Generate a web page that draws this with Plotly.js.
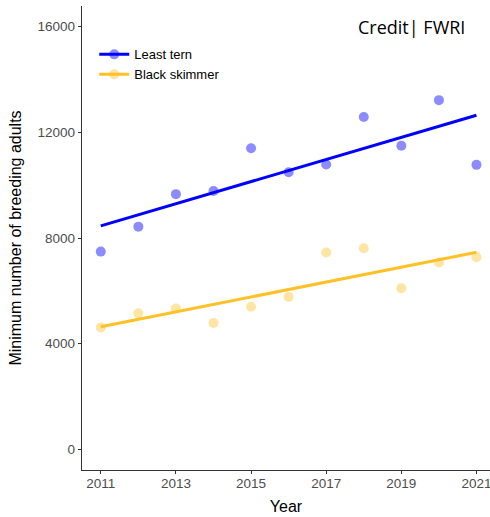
<!DOCTYPE html>
<html>
<head>
<meta charset="utf-8">
<script src="https://cdn.plot.ly/plotly-3.0.1.min.js"></script>
<style>html,body{margin:0;padding:0;background:#fff;}#chart{width:490px;height:517px;}</style>
</head>
<body>
<div id="chart"></div>
<script>
const years = [2011, 2012, 2013, 2014, 2015, 2016, 2017, 2018, 2019, 2020, 2021];
const leastTern = [7485, 8430, 9660, 9780, 11400, 10490, 10780, 12580, 11490, 13220, 10770];
const blackSkimmer = [4610, 5150, 5330, 4780, 5400, 5770, 7450, 7610, 6100, 7070, 7270];
const seriesNames = ["Least tern", "Black skimmer"];
const yTicks = [0, 4000, 8000, 12000, 16000];
const xTicks = [2011, 2013, 2015, 2017, 2019, 2021];

function fit(xs, ys) {
  const n = xs.length;
  const mx = xs.reduce((a, b) => a + b, 0) / n;
  const my = ys.reduce((a, b) => a + b, 0) / n;
  let sxy = 0, sxx = 0;
  for (let i = 0; i < n; i++) { sxy += (xs[i] - mx) * (ys[i] - my); sxx += (xs[i] - mx) ** 2; }
  const b = sxy / sxx, a = my - b * mx;
  const x0 = xs[0], x1 = xs[n - 1];
  return { x: [x0, x1], y: [a + b * x0, a + b * x1] };
}

const blue = "#0000FF", blueFill = "rgba(0,0,255,0.45)";
const gold = "#FFC125", goldFill = "rgba(255,193,37,0.42)";
const ft = fit(years, leastTern), fs = fit(years, blackSkimmer);

const traces = [
  { x: years, y: blackSkimmer, mode: "markers", type: "scatter", showlegend: false,
    marker: { size: 10, color: goldFill } },
  { x: years, y: leastTern, mode: "markers", type: "scatter", showlegend: false,
    marker: { size: 10, color: blueFill } },
  { x: fs.x, y: fs.y, mode: "lines", type: "scatter", showlegend: false,
    line: { color: gold, width: 3 } },
  { x: ft.x, y: ft.y, mode: "lines", type: "scatter", showlegend: false,
    line: { color: blue, width: 3 } },
  { x: [null], y: [null], mode: "lines+markers", type: "scatter", name: seriesNames[0],
    line: { color: blue, width: 3 }, marker: { size: 10, color: blueFill } },
  { x: [null], y: [null], mode: "lines+markers", type: "scatter", name: seriesNames[1],
    line: { color: gold, width: 3 }, marker: { size: 10, color: goldFill } }
];

const layout = {
  width: 490, height: 517,
  margin: { l: 82, r: 0, t: 6, b: 47 },
  paper_bgcolor: "#fff", plot_bgcolor: "#fff",
  font: { family: "Liberation Sans, Arial, sans-serif", color: "#4d4d4d", size: 13.5 },
  showlegend: true,
  legend: { x: 0.03, y: 0.928, xanchor: "left", yanchor: "top", bgcolor: "rgba(0,0,0,0)",
    font: { size: 13, color: "#000" }, itemwidth: 30, tracegroupgap: 0 },
  xaxis: {
    range: [2010.5, 2021.36], tickvals: xTicks, ticktext: xTicks.map(String),
    showgrid: false, zeroline: false, showline: true, linecolor: "#333", linewidth: 1.2,
    ticks: "outside", ticklen: 3, tickcolor: "#333", tickfont: { size: 13.5, color: "#4d4d4d" },
    ticklabeloverflow: "allow", ticklabelstandoff: -2,
    title: { text: "Year", font: { size: 16, color: "#000" }, standoff: 10 }
  },
  yaxis: {
    range: [-784, 16784], tickvals: yTicks, ticktext: yTicks.map(String),
    showgrid: false, zeroline: false, showline: true, linecolor: "#333", linewidth: 1.2,
    ticks: "outside", ticklen: 3, tickcolor: "#333", tickfont: { size: 13.5, color: "#4d4d4d" },
    title: { text: "Minimum number of breeding adults", font: { size: 16, color: "#000" }, standoff: 12 }
  },
  annotations: [{
    text: "Credit| FWRI", xref: "paper", yref: "paper", x: 0.944, y: 0.955,
    xanchor: "right", yanchor: "middle", showarrow: false,
    font: { family: "Open Sans, sans-serif", size: 18, color: "#000" }
  }]
};

Plotly.newPlot("chart", traces, layout, { staticPlot: true, displayModeBar: false });
</script>
</body>
</html>
